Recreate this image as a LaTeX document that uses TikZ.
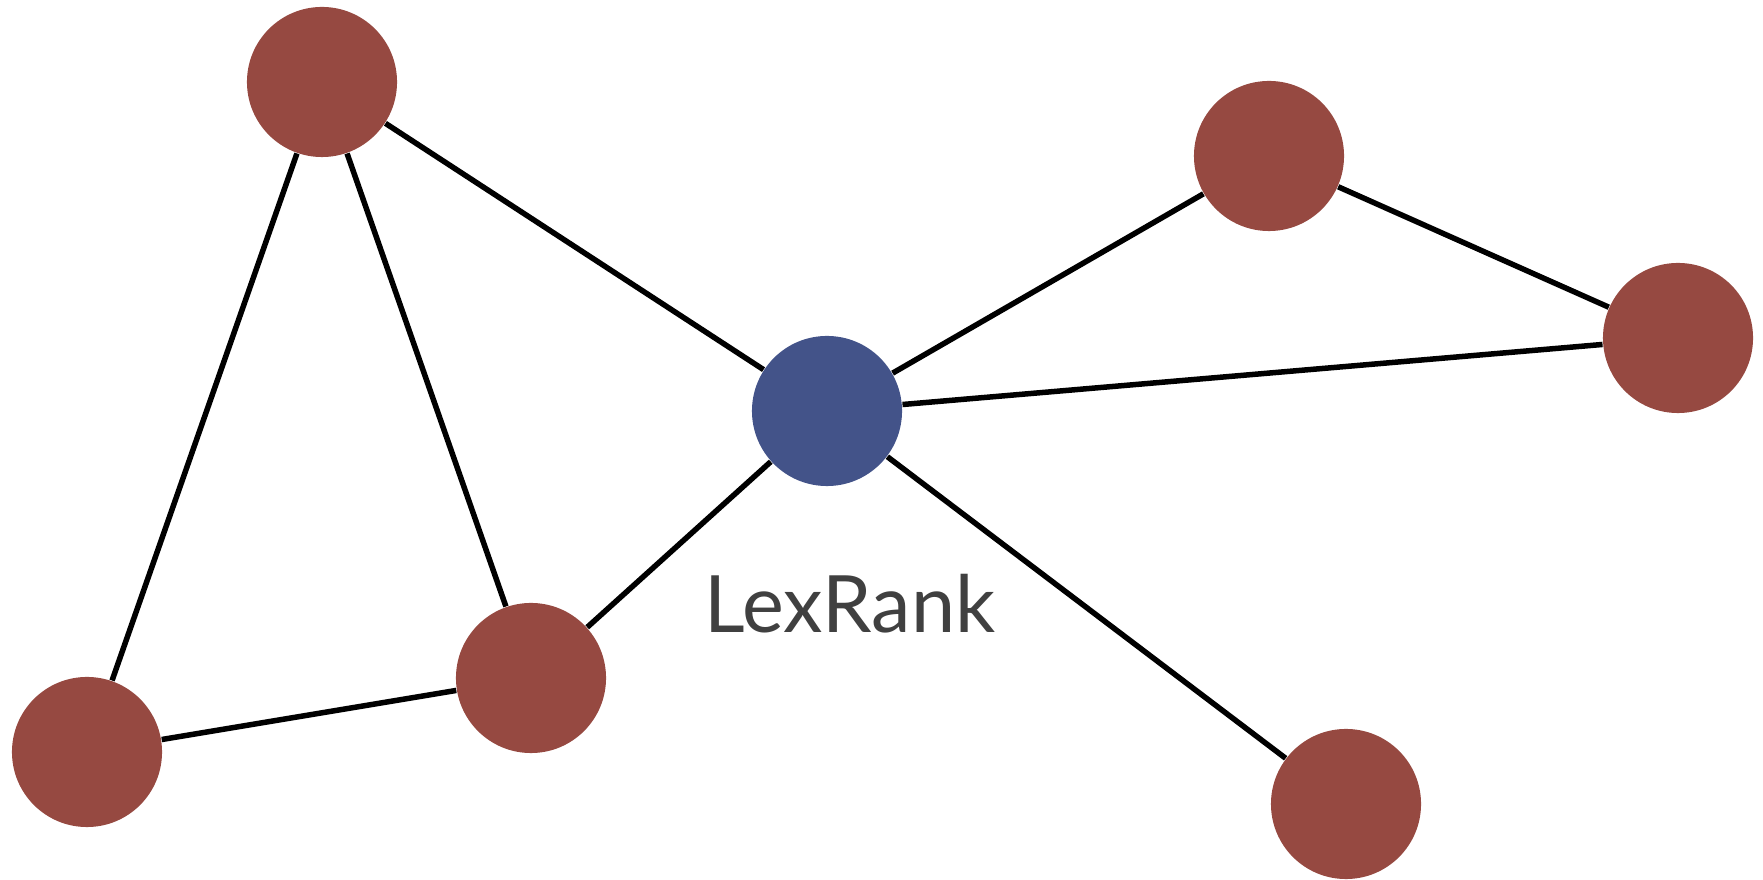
\documentclass[tikz,border=0pt]{standalone}
\usepackage{fontspec}
\setmainfont{Lato}
\usepackage{tikz}
\usetikzlibrary{positioning}
\definecolor{sentred}{RGB}{150,73,65}
\definecolor{lexblue}{RGB}{67,83,137}
\definecolor{labelgray}{RGB}{64,64,64}

\begin{document}
\begin{tikzpicture}[x=0.01cm,y=-0.01cm,
  sent/.style={circle,fill=sentred,minimum size=1.5cm,inner sep=0pt},
  hub/.style={circle,fill=lexblue,minimum size=1.5cm,inner sep=0pt},
  link/.style={black,line width=0.055cm}]
\useasboundingbox (0,0) rectangle (1763,880);
\node[sent] (s1) at (322,82) {};
\node[sent] (s2) at (87,752) {};
\node[sent] (s3) at (531,678) {};
\node[hub] (lex) at (827,411) {};
\node[sent] (s4) at (1269,156) {};
\node[sent] (s5) at (1678,338) {};
\node[sent] (s6) at (1346,804) {};
\node[font=\fontsize{22.5}{27}\selectfont,text=labelgray,anchor=base] (lbl) at (850,633) {LexRank};

\draw[link] (s1) -- (s2);
\draw[link] (s1) -- (s3);
\draw[link] (s1) -- (lex);
\draw[link] (s2) -- (s3);
\draw[link] (s3) -- (lex);
\draw[link] (lex) -- (s4);
\draw[link] (lex) -- (s5);
\draw[link] (lex) -- (s6);
\draw[link] (s4) -- (s5);

\end{tikzpicture}
\end{document}
